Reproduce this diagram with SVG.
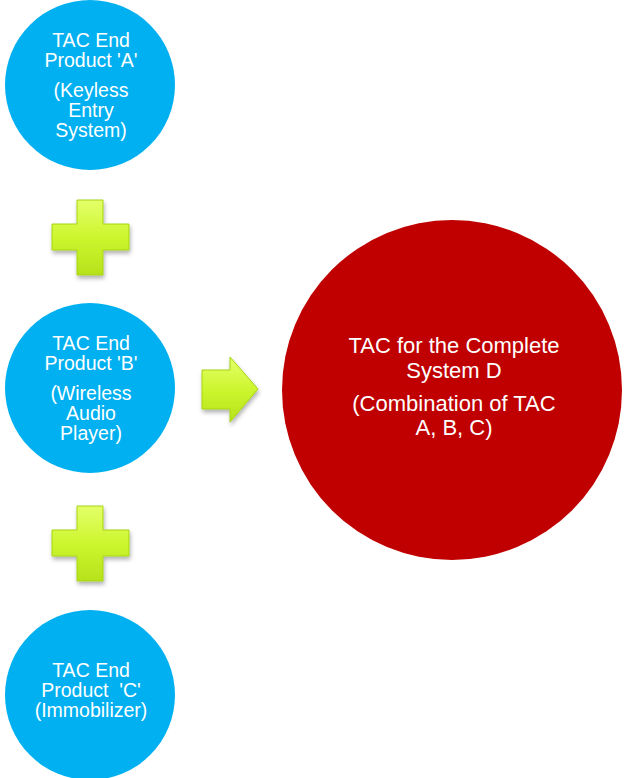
<svg xmlns="http://www.w3.org/2000/svg" width="625" height="778" viewBox="0 0 625 778">
  <defs>
    <style>
      .blue { fill: #00B0F0; }
      .red { fill: #C00000; }
      .lbl { font-family: "Liberation Sans", Arial, sans-serif; fill: #FFFFFF; text-anchor: middle; }
      .small { font-size: 19.5px; }
      .big { font-size: 22px; }
      .shape { fill: url(#lime); stroke: #A6D40F; stroke-width: 1; filter: url(#shadow); }
    </style>
    <linearGradient id="lime" x1="0" y1="0" x2="0" y2="1">
      <stop offset="0" stop-color="#E4FF6A"/>
      <stop offset="0.5" stop-color="#CCF62E"/>
      <stop offset="1" stop-color="#B6E21C"/>
    </linearGradient>
    <filter id="shadow" x="-20%" y="-20%" width="150%" height="150%">
      <feDropShadow dx="1" dy="3" stdDeviation="2" flood-color="#000000" flood-opacity="0.3"/>
    </filter>
  </defs>
  <rect width="625" height="778" fill="#FFFFFF"/>

  <g id="node-A">
    <circle class="blue" cx="90" cy="85" r="85"/>
    <text class="lbl small" x="91" y="47">TAC End</text>
    <text class="lbl small" x="91" y="67">Product 'A'</text>
    <text class="lbl small" x="91" y="97">(Keyless</text>
    <text class="lbl small" x="91" y="117">Entry</text>
    <text class="lbl small" x="91" y="137">System)</text>
  </g>

  <g id="node-B">
    <circle class="blue" cx="90" cy="388" r="85"/>
    <text class="lbl small" x="91" y="350">TAC End</text>
    <text class="lbl small" x="91" y="370">Product 'B'</text>
    <text class="lbl small" x="91" y="400">(Wireless</text>
    <text class="lbl small" x="91" y="420">Audio</text>
    <text class="lbl small" x="91" y="440">Player)</text>
  </g>

  <g id="node-C">
    <circle class="blue" cx="90" cy="695" r="85"/>
    <text class="lbl small" x="91" y="677">TAC End</text>
    <text class="lbl small" x="91" y="697" xml:space="preserve">Product  'C'</text>
    <text class="lbl small" x="91" y="717">(Immobilizer)</text>
  </g>

  <g id="node-D">
    <circle class="red" cx="452" cy="390" r="170"/>
    <text class="lbl big" x="454" y="353">TAC for the Complete</text>
    <text class="lbl big" x="454" y="378">System D</text>
    <text class="lbl big" x="454" y="411">(Combination of TAC</text>
    <text class="lbl big" x="454" y="435">A, B, C)</text>
  </g>

  <g id="connectors">
    <path id="plus-1" class="shape" d="M77,200 H103 V224 H129 V250 H103 V275 H77 V250 H52 V224 H77 Z"/>
    <path id="plus-2" class="shape" d="M77,506 H103 V530 H129 V556 H103 V581 H77 V556 H52 V530 H77 Z"/>
    <path id="arrow" class="shape" d="M202,370 H230 V357 L258,389 L230,422 V409 H202 Z"/>
  </g>
</svg>
